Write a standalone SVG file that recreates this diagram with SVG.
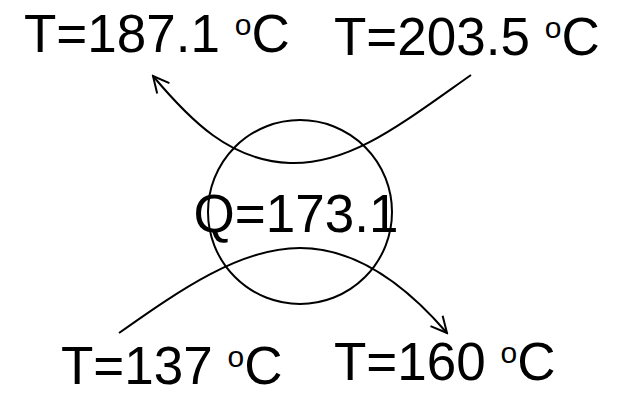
<svg xmlns="http://www.w3.org/2000/svg" width="619" height="393" viewBox="0 0 619 393">
<style>
  .t { font-family: "Liberation Sans", Arial, sans-serif; font-size: 53px; fill: #000; }
  .s { font-size: 30px; }
  .c { fill: none; stroke: #000; stroke-width: 2; }
</style>
<defs>
  <marker id="arr" viewBox="0 0 20 20" refX="18" refY="10" markerWidth="20" markerHeight="20" markerUnits="userSpaceOnUse" orient="auto">
    <path d="M2,2 L18,10 L2,18" fill="none" stroke="#000" stroke-width="2"/>
  </marker>
</defs>
<rect width="619" height="393" fill="#fff"/>
<g id="node-q">
  <circle cx="300" cy="212" r="92" class="c"/>
  <text class="t" x="296" y="232" text-anchor="middle">Q=173.1</text>
</g>
<g id="node-t1"><text class="t" x="24" y="52">T=187.1 <tspan class="s" dy="-17">o</tspan><tspan dy="17">C</tspan></text></g>
<g id="node-t2"><text class="t" x="334" y="55">T=203.5 <tspan class="s" dy="-17">o</tspan><tspan dy="17">C</tspan></text></g>
<g id="node-t3"><text class="t" x="61" y="384">T=137 <tspan class="s" dy="-17">o</tspan><tspan dy="17">C</tspan></text></g>
<g id="node-t4"><text class="t" x="334" y="380">T=160 <tspan class="s" dy="-17">o</tspan><tspan dy="17">C</tspan></text></g>
<g id="connectors">
  <path class="c" d="M471,75 C400,125 350,165 290,163 S190,120 153,76" marker-end="url(#arr)"/>
  <path class="c" d="M119,333 C180,290 240,248 300,248 S410,290 447,333" marker-end="url(#arr)"/>
</g>
</svg>
